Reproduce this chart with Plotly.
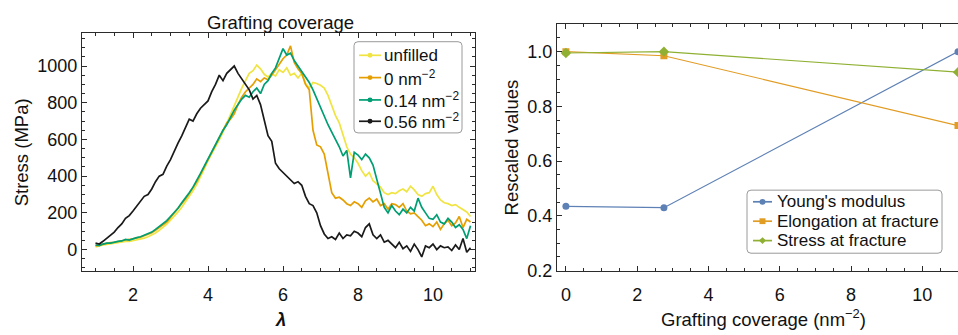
import numpy as np
import plotly.graph_objects as go

# ---------------- data: left panel (stress-strain curves) ----------------
lam = np.round(np.linspace(1.0, 11.0, 101), 2)

stress_unfilled = [15, 22, 25, 28, 32, 35, 38, 42, 45, 44,
                   48, 55, 58, 62, 70, 78, 90, 105, 120, 138,
                   160, 180, 205, 230, 258, 290, 320, 355, 395, 440,
                   485, 520, 555, 598, 640, 690, 730, 780, 830, 880,
                   920, 960, 975, 1005, 985, 955, 940, 960, 945, 980,
                   965, 990, 950, 960, 935, 960, 905, 880, 910, 905,
                   895, 880, 840, 780, 730, 690, 620, 560, 520, 500,
                   470, 430, 400, 420, 375, 360, 340, 310, 300, 310,
                   305, 320, 330, 315, 345, 325, 300, 290, 305, 310,
                   345, 300, 270, 255, 250, 240, 245, 230, 215, 205,
                   180]

stress_0 = [20, 25, 30, 33, 38, 40, 45, 48, 52, 55,
            58, 62, 68, 75, 82, 92, 105, 118, 135, 150,
            175, 195, 220, 248, 275, 305, 335, 370, 410, 450,
            490, 530, 565, 605, 650, 690, 710, 740, 790, 830,
            860, 880, 900, 930, 915, 935, 925, 950, 980, 1005,
            1040, 1060, 1110, 1020, 985, 960, 900, 870, 650, 570,
            560, 520, 420, 310, 280, 285, 270, 250, 240, 260,
            250, 230, 265, 280, 260, 275, 240, 250, 220, 250,
            245, 230, 250, 210, 195, 200, 180, 160, 130, 140,
            125, 150, 110, 140, 160, 130, 145, 180, 120, 165,
            150]

stress_014 = [25, 22, 30, 35, 35, 42, 45, 47, 55, 52,
              60, 65, 70, 78, 85, 95, 110, 125, 140, 158,
              180, 200, 225, 255, 280, 310, 340, 375, 415, 455,
              495, 530, 570, 610, 650, 680, 720, 760, 790, 820,
              840, 830, 860, 880, 850, 900, 920, 960, 990, 1040,
              1095, 1060, 1070, 1030, 1000, 965, 940, 910, 870, 820,
              770, 720, 680, 640, 600, 560, 510, 540, 390, 530,
              515, 490, 520, 500, 460, 380, 300, 230, 200, 240,
              210, 190, 220, 200, 230, 210, 280, 230, 200, 170,
              165, 190, 150, 140, 170, 150, 120, 135, 110, 60,
              130]

stress_056 = [35, 30, 45, 60, 75, 95, 120, 140, 170, 185,
              210, 235, 260, 290, 300, 330, 370, 400, 410, 455,
              490, 540, 580, 620, 670, 710, 700, 740, 770, 790,
              810, 860, 900, 950, 920, 960, 980, 1000, 960, 930,
              900, 870, 820, 840, 790, 700, 620, 590, 470, 440,
              420, 400, 380, 360, 370, 350, 290, 250, 240, 200,
              130, 85, 60, 70, 55, 90, 60, 80, 75, 100,
              90, 70, 120, 140, 80, 60, 80, 40, 50, 30,
              10, 40, 5, 20, -10, 30, 0, -40, 20, 10,
              30, 0, 20, 10, 15, -5, 25, 0, 60, -15,
              10]

curve_names = ["unfilled", "0 nm<sup>\u22122</sup>", "0.14 nm<sup>\u22122</sup>", "0.56 nm<sup>\u22122</sup>"]
curve_colors = ["#F0E442", "#E69F00", "#009E73", "#1a1a1a"]

# ---------------- data: right panel (rescaled properties) ----------------
coverage = [0, 2.75, 11]
youngs = [0.435, 0.43, 1.0]
elongation = [1.0, 0.985, 0.73]
stress_frac = [0.995, 1.0, 0.925]
prop_names = ["Young's modulus", "Elongation at fracture", "Stress at fracture"]
prop_colors = ["#5E81B5", "#E19C24", "#8FB032"]
prop_symbols = ["circle", "square", "diamond"]
prop_sizes = [7, 7, 8]

FONT = "Liberation Sans, Arial, sans-serif"
W, H = 958, 335
FRAME = "#2b2b2b"


def X(px):
    return px / W


def Y(py):
    return 1 - py / H


fig = go.Figure()

for ys, c, n in zip([stress_unfilled, stress_0, stress_014, stress_056], curve_colors, curve_names):
    fig.add_trace(go.Scatter(x=lam, y=ys, mode="lines", line=dict(color=c, width=1.7),
                             name=n, showlegend=False, xaxis="x", yaxis="y"))

for ys, n, c, s, sz in zip([youngs, elongation, stress_frac], prop_names, prop_colors,
                           prop_symbols, prop_sizes):
    fig.add_trace(go.Scatter(x=coverage, y=ys, mode="lines+markers", name=n,
                             line=dict(color=c, width=1.2),
                             marker=dict(color=c, size=sz, symbol=s),
                             showlegend=False, xaxis="x2", yaxis="y2"))


def ax(**kw):
    d = dict(showline=True, linecolor=FRAME, linewidth=1.3, ticks="inside",
             tickcolor=FRAME, ticklen=5, tickwidth=1, showgrid=False, zeroline=False,
             tickfont=dict(family=FONT, size=18, color="#111"), layer="above traces")
    d.update(kw)
    return d


shapes = []
annotations = []


def rounded_box(x0, y0, x1, y1, r=4):
    # pixel coords -> paper path with rounded corners
    p = (f"M{X(x0 + r)},{Y(y0)} L{X(x1 - r)},{Y(y0)} Q{X(x1)},{Y(y0)} {X(x1)},{Y(y0 + r)} "
         f"L{X(x1)},{Y(y1 - r)} Q{X(x1)},{Y(y1)} {X(x1 - r)},{Y(y1)} "
         f"L{X(x0 + r)},{Y(y1)} Q{X(x0)},{Y(y1)} {X(x0)},{Y(y1 - r)} "
         f"L{X(x0)},{Y(y0 + r)} Q{X(x0)},{Y(y0)} {X(x0 + r)},{Y(y0)} Z")
    shapes.append(dict(type="path", path=p, xref="paper", yref="paper",
                       line=dict(color="#9a9a9a", width=1), fillcolor="white", layer="above"))


def legend_item(lx0, lx1, yc, tx, color, text, symbol, msize, fsize):
    shapes.append(dict(type="line", xref="paper", yref="paper", x0=X(lx0), x1=X(lx1),
                       y0=Y(yc), y1=Y(yc), line=dict(color=color, width=1.7), layer="above"))
    xm = (lx0 + lx1) / 2
    h = msize / 2
    if symbol == "circle":
        shapes.append(dict(type="circle", xref="paper", yref="paper", x0=X(xm - h), x1=X(xm + h),
                           y0=Y(yc + h), y1=Y(yc - h), fillcolor=color, line=dict(width=0),
                           layer="above"))
    elif symbol == "square":
        shapes.append(dict(type="rect", xref="paper", yref="paper", x0=X(xm - h), x1=X(xm + h),
                           y0=Y(yc + h), y1=Y(yc - h), fillcolor=color, line=dict(width=0),
                           layer="above"))
    else:
        p = f"M{X(xm)},{Y(yc - h)} L{X(xm + h)},{Y(yc)} L{X(xm)},{Y(yc + h)} L{X(xm - h)},{Y(yc)} Z"
        shapes.append(dict(type="path", xref="paper", yref="paper", path=p, fillcolor=color,
                           line=dict(width=0), layer="above"))
    annotations.append(dict(text=text, x=X(tx), y=Y(yc), xref="paper", yref="paper",
                            xanchor="left", yanchor="middle", showarrow=False,
                            font=dict(family=FONT, size=fsize, color="#111")))


# left legend
rounded_box(354, 43, 462, 137)
for yc, c, n in zip([57, 80, 103, 125], curve_colors, curve_names):
    legend_item(359, 381, yc, 382, c, n, "circle", 5, 17)

# right legend
rounded_box(747, 196, 942, 261)
for yc, c, n, s in zip([208, 228, 248], prop_colors, prop_names, prop_symbols):
    legend_item(753, 772, yc, 775, c, n, s, 6 if s != "diamond" else 7, 17)

annotations += [
    dict(text="Grafting coverage", x=X(280), y=Y(23), xref="paper", yref="paper",
         xanchor="center", yanchor="middle", showarrow=False,
         font=dict(family=FONT, size=18.5, color="#111")),
    dict(text="Stress (MPa)", x=X(21), y=Y(157), xref="paper", yref="paper",
         xanchor="center", yanchor="middle", showarrow=False, textangle=-90,
         font=dict(family=FONT, size=18.5, color="#111")),
    dict(text="<i><b>λ</b></i>", x=X(280), y=Y(329), xref="paper", yref="paper",
         xanchor="center", yanchor="middle", showarrow=False,
         font=dict(family=FONT, size=18.5, color="#111")),
    dict(text="Rescaled values", x=X(511), y=Y(152), xref="paper", yref="paper",
         xanchor="center", yanchor="middle", showarrow=False, textangle=-90,
         font=dict(family=FONT, size=18.5, color="#111")),
    dict(text="Grafting coverage (nm<sup>\u22122</sup>)", x=X(763), y=Y(328),
         xref="paper", yref="paper", xanchor="center", yanchor="middle", showarrow=False,
         font=dict(family=FONT, size=18.5, color="#111")),
]

fig.update_layout(
    width=W, height=H,
    margin=dict(l=0, r=0, t=0, b=0),
    paper_bgcolor="white", plot_bgcolor="white",
    font=dict(family=FONT, color="#111"),
    showlegend=False,
    xaxis=ax(domain=[X(82), X(475)], range=[0.64, 11.12], tickvals=[2, 4, 6, 8, 10],
             mirror="ticks", anchor="y", ticklabelstandoff=8,
             minor=dict(ticks="inside", ticklen=3, dtick=0.5, tick0=0, tickcolor=FRAME)),
    yaxis=ax(domain=[Y(279), Y(34)], range=[-115, 1180],
             tickvals=[0, 200, 400, 600, 800, 1000], mirror="ticks", anchor="x",
             ticklabelstandoff=0,
             minor=dict(ticks="inside", ticklen=3, dtick=50, tick0=0, tickcolor=FRAME)),
    xaxis2=ax(domain=[X(557), 1.0], range=[-0.25, 11.0], tickvals=[0, 2, 4, 6, 8, 10],
              mirror="ticks", anchor="y2", ticklabelstandoff=8,
              minor=dict(ticks="inside", ticklen=3, dtick=0.5, tick0=0, tickcolor=FRAME)),
    yaxis2=ax(domain=[Y(279), Y(25)], range=[0.2, 1.1],
              tickvals=[0.2, 0.4, 0.6, 0.8, 1.0], ticktext=["0.2", "0.4", "0.6", "0.8", "1.0"],
              anchor="x2", ticklabelstandoff=0,
              minor=dict(ticks="inside", ticklen=3, dtick=0.05, tick0=0, tickcolor=FRAME)),
    shapes=shapes,
    annotations=annotations,
)

fig.write_html("out.html")
